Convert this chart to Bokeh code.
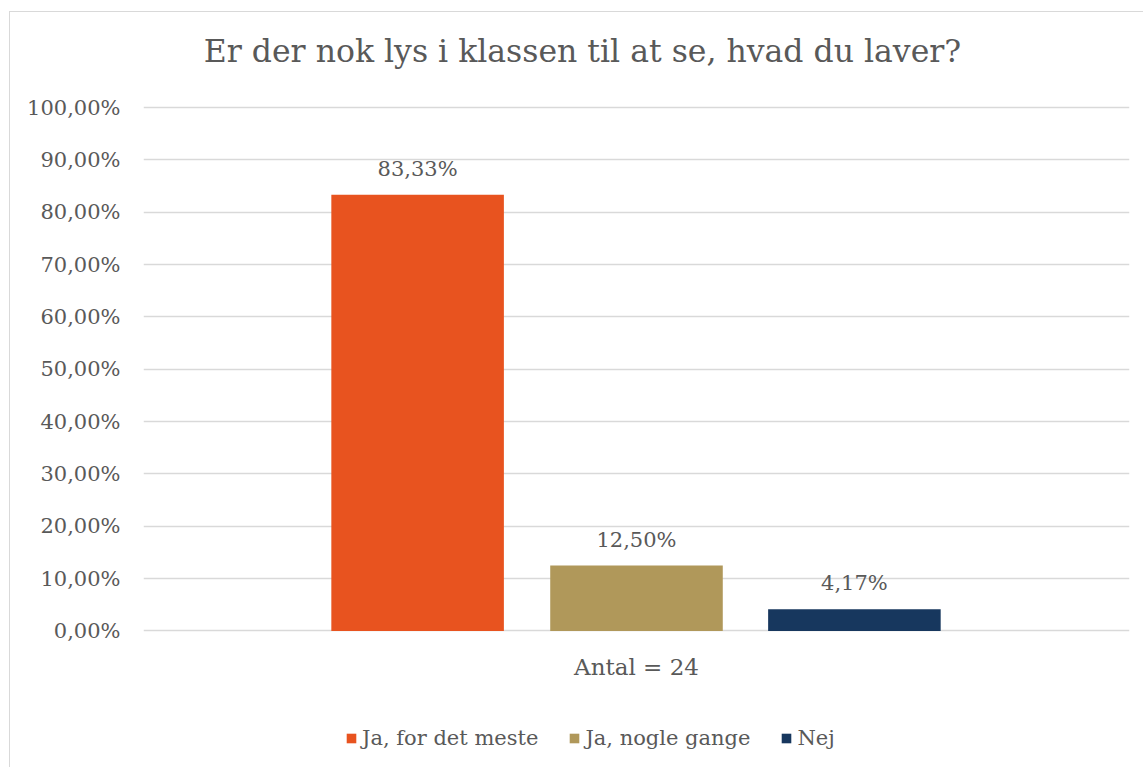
from bokeh.plotting import figure
from bokeh.models import (FactorRange, Range1d, Legend, LegendItem, Label,
                          CustomJSTickFormatter, ColumnDataSource, FixedTicker)
from bokeh.transform import dodge
from bokeh.core.properties import value
from bokeh.embed import file_html
from bokeh.resources import INLINE

title_text = "Er der nok lys i klassen til at se, hvad du laver?"
group = ["Antal = 24"]
series = ["Ja, for det meste", "Ja, nogle gange", "Nej"]
values = [83.33, 12.50, 4.17]
colors = ["#E8531F", "#B0985A", "#17375E"]
y_ticks = [0, 10, 20, 30, 40, 50, 60, 70, 80, 90, 100]

FONT = "DejaVu Serif"
TXT = "#595959"
GRID = "#d9d9d9"

offsets = [-0.222, 0.0, 0.221]
bar_width = 0.175

# frame spans the full height so that title, category label and legend sit inside it
p = figure(width=1134, height=756, x_range=FactorRange(*group), y_range=Range1d(-26.27, 118.15),
           output_backend="svg", toolbar_location=None, title=None, x_axis_location=None,
           min_border_left=133, min_border_right=15, min_border_top=0, min_border_bottom=0)
p.styles = {"margin-left": "9px", "margin-top": "11px",
            "border-left": "1px solid #d9d9d9", "border-top": "1px solid #d9d9d9"}
p.outline_line_color = None
p.background_fill_color = "white"
p.border_fill_color = "white"

items = []
for s, v, c, off in zip(series, values, colors, offsets):
    src = ColumnDataSource(dict(x=group, top=[v], label=[f"{v:.2f}".replace(".", ",") + "%"]))
    r = p.vbar(x=dodge("x", off, range=p.x_range), top="top", width=bar_width, source=src,
               fill_color=c, line_color=None)
    p.text(x=dodge("x", off, range=p.x_range), y="top", text="label", source=src,
           y_offset=-26, text_align="center", text_baseline="alphabetic",
           text_font=value(FONT), text_font_size="21px", text_color=TXT)
    items.append(LegendItem(label=s, renderers=[r]))

# category label below the baseline
cat_src = ColumnDataSource(dict(x=group, y=[0]))
p.text(x="x", y="y", text="x", source=cat_src, y_offset=36, text_align="center",
       text_baseline="alphabetic", text_font=value(FONT), text_font_size="23px",
       text_color=TXT)

legend = Legend(items=items, orientation="horizontal", location=(202, 18),
                glyph_width=12, glyph_height=12, label_standoff=5, spacing=30,
                padding=0, margin=0, border_line_color=None, background_fill_alpha=0,
                label_text_font=FONT, label_text_font_size="21px", label_text_color=TXT)
p.add_layout(legend)

p.add_layout(Label(x=0.4452, y=110.7, text=title_text, text_align="center",
                   text_baseline="alphabetic", text_font=FONT, text_font_size="31.5px",
                   text_color=TXT))

p.yaxis.axis_line_color = None
p.yaxis.major_tick_line_color = None
p.yaxis.minor_tick_line_color = None
p.yaxis.ticker = FixedTicker(ticks=y_ticks)
p.yaxis.formatter = CustomJSTickFormatter(code="return tick.toFixed(2).replace('.', ',') + '%';")
p.yaxis.major_label_standoff = 17
p.yaxis.major_label_text_font = FONT
p.yaxis.major_label_text_font_size = "21px"
p.yaxis.major_label_text_color = TXT

p.xgrid.visible = False
p.ygrid.grid_line_color = GRID
p.ygrid.grid_line_width = 1.6

open("out.html", "w").write(file_html(p, INLINE))
